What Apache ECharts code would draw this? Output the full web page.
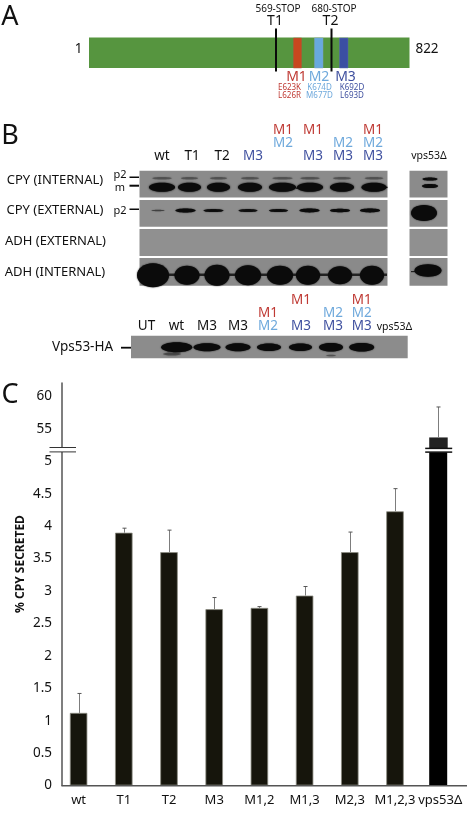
<!DOCTYPE html>
<html>
<head>
<meta charset="utf-8">
<style>html,body{margin:0;padding:0;background:#fff}#c{width:467px;height:819px}</style>
<script src="https://cdn.jsdelivr.net/npm/echarts@6/dist/echarts.min.js"></script>
</head>
<body>
<div id="c"></div>
<script>
// ---- chart values (panel C); the axis is broken above 5
const categories = ['wt','T1','T2','M3','M1,2','M1,3','M2,3','M1,2,3','vps53Δ'];
const secreted   = [1.12,3.9,3.6,2.72,2.74,2.93,3.6,4.23,53.7];
const errorTops  = [1.42,3.97,3.94,2.9,2.76,3.07,3.91,4.58,58.4];
const yTickLabels = ['0','0.5','1','1.5','2','2.5','3','3.5','4','4.5','5','55','60'];

// ---- drawing helpers for the schematic and blot panels
const FONT = '"Noto Sans", sans-serif';
const RED = '#bf3a34', LBLUE = '#6fa9dc', DBLUE = '#3f509f';
const MC = {M1:RED, M2:LBLUE, M3:DBLUE};
const g = [];
function txt(x,y,s,size,fill,extra){
  g.push({type:'text',x,y,z:20,style:Object.assign({text:s,fill:fill||'#111',font:size+'px '+FONT,textAlign:'center',textVerticalAlign:'middle'},extra||{})});
}
function rect(x0,y0,x1,y1,fill,extra){
  g.push({type:'rect',z:10,shape:{x:x0,y:y0,width:x1-x0,height:y1-y0},style:Object.assign({fill},extra||{})});
}
function band(cx,cy,w,h,op,blur){
  g.push({type:'ellipse',z:12,shape:{cx,cy,rx:w/2,ry:h/2},style:{fill:'#0b0b0b',opacity:op==null?1:op,shadowColor:'#0b0b0b',shadowBlur:blur==null?2:blur}});
}

// Panel letters
txt(10,17,'A',27); txt(10,136,'B',27); txt(10,395,'C',27);

// Panel A
txt(78.5,49,'1',13.5); txt(427,49,'822',13.5);
rect(89,37.5,409.5,68,'#56953f');
rect(293.5,38,301.5,68,'#c8471f',{stroke:'#a9553a',lineWidth:0.5});
rect(314.5,38,323,68,'#68a9df',{stroke:'#7f9fc0',lineWidth:0.5});
rect(339.5,38,348,68,'#3b4fa2',{stroke:'#5a6aa8',lineWidth:0.5});
rect(275,28.5,277,71.5,'#0a0a0a'); rect(330.5,28.5,332.5,71.5,'#0a0a0a');
txt(278,9,'569-STOP',10); txt(334,9,'680-STOP',10);
txt(275,21,'T1',14); txt(330.5,21,'T2',14);
txt(296.5,77,'M1',14,RED); txt(319,77,'M2',14,LBLUE); txt(345.5,77,'M3',14,DBLUE);
txt(289.5,87.3,'E623K',8,RED); txt(289.5,95.7,'L626R',8,RED);
txt(319.5,87.3,'K674D',8,LBLUE); txt(319.5,95.7,'M677D',8,LBLUE);
txt(352,87.3,'K692D',8,DBLUE); txt(352,95.7,'L693D',8,DBLUE);

// Panel B labels
const laneTop = [[162,[null,null,'wt']],[192,[null,null,'T1']],[222,[null,null,'T2']],[253,[null,null,'M3']],
  [283,['M1','M2',null]],[313,['M1',null,'M3']],[343,[null,'M2','M3']],[373,['M1','M2','M3']]];
laneTop.forEach(([x,st])=>st.forEach((s,i)=>{ if(s) txt(x,[130,142.7,156][i],s,13.5,MC[s]||'#111'); }));
txt(429,156,'vps53Δ',10.5);
txt(55,180,'CPY (INTERNAL)',13); txt(55,210.5,'CPY (EXTERNAL)',13);
txt(55.5,241.5,'ADH (EXTERNAL)',13); txt(55,272,'ADH (INTERNAL)',13);
txt(120,175,'p2',11); txt(120,187.5,'m',11); txt(120,210.5,'p2',11);
rect(129.5,176.5,139,178,'#0a0a0a'); rect(129.5,184.7,139,186.7,'#0a0a0a'); rect(129.5,208.5,139,210,'#0a0a0a');

// Blot rows
const GEL='#8b8b8b';
rect(139.5,170.7,387.5,197.5,GEL); rect(139.5,200,387.5,226.7,'#8e8e8e');
rect(139.5,229,387.5,256,'#909090'); rect(139.5,258,387.5,285.7,'#8a8a8a');
rect(409.5,170.7,447.5,197.5,GEL); rect(409.5,200,447.5,226.7,'#8e8e8e');
rect(409.5,229,447.5,256,'#909090'); rect(409.5,258,447.5,285.7,'#8a8a8a');
// row 1: CPY internal (cx, width)
[[162,26],[189.5,23],[218.5,23],[250,24],[282.5,27],[310,26],[342,24],[374,25]].forEach(([x,w])=>{
  band(x,187.3,w,9); band(x,178.3,w*0.75,2.5,0.28,1.5);
});
rect(296,187.5,299,188.8,'#111'); rect(386,186.8,387.5,188,'#111');
band(430,179,15,3.2,0.95,1); band(430,186,16,4.2,0.95,1);
// row 2: CPY external
[[158,13,1.5,0.4],[185.5,20,4,1],[213.5,20,3.2,0.9],[248,19,3.2,0.85],[278.5,19,3.2,0.92],[309.5,20,3.8,1],[340,20,3.5,1],[370,20,3.8,1]].forEach(([x,w,h,o])=>band(x,210.5,w,h,o,1.2));
band(424,213,26,16,1,1.5);
// row 4: ADH internal
rect(141,273.5,387,276,'#222');
[[153,32,24],[187,25,19],[217,25,21],[248,26,20],[280,26,19],[308,24,19],[340,24,18],[372,24,19]].forEach(([x,w,h])=>band(x,275.3,w,h,1,1.5));
band(428,270.5,27,12.5,1,1.5); rect(411,271,420,272.2,'#222');

// Lower blot
txt(146.5,325.7,'UT',13.5); txt(176.5,325.7,'wt',13.5); txt(207,325.7,'M3',13.5); txt(238,325.7,'M3',13.5);
[[268,[null,'M1','M2']],[301,['M1',null,'M3']],[333,[null,'M2','M3']],[361.7,['M1','M2','M3']]].forEach(([x,st])=>
  st.forEach((s,i)=>{ if(s) txt(x,[300,312.7,325.7][i],s,13.5,MC[s]); }));
txt(394.5,327.5,'vps53Δ',10.5);
txt(82.5,347.3,'Vps53-HA',13.5);
rect(121,346.8,131,348.6,'#0a0a0a');
rect(131,335.7,407.7,358.3,'#8c8c8c');
[[176.7,31,10],[207,27,8],[238,25,8],[269,24,7.5],[300.5,23,7.5],[331,24,8.5],[361.7,25,8.5]].forEach(([x,w,h])=>band(x,347.3,w,h,1,1.5));
band(172,354,18,3,0.35,2); band(331,355.5,10,1.5,0.3,1.5);

// Panel C: axis line along the bottom and broken-axis mark
rect(61.5,785,467,786.5,'#555');
rect(49,447.6,76,452,'#fff');
rect(49.5,447,76,448,'#333'); rect(49.5,451.4,76,452.4,'#333');
txt(20.5,564,'% CPY SECRETED',12,'#111',{font:'bold 12px '+FONT});
g[g.length-1].rotation=Math.PI/2;

// Values above the break are plotted on a compressed scale (55 sits where 5.5 would)
const toAxis = v => v>=50 ? v/10 : v;
const barData = secreted.map((v,i)=> i===8 ? '-' : v);

const chart = echarts.init(document.getElementById('c'),null,{renderer:'canvas'});
chart.setOption({
  animation:false,
  backgroundColor:'#fff',
  graphic:g,
  grid:{left:56,width:406.8,top:383,height:402.5,containLabel:false},
  xAxis:{type:'category',data:categories,axisLine:{show:false},axisTick:{show:false},
    axisLabel:{color:'#111',fontFamily:'"Noto Sans", sans-serif',fontSize:13,margin:8,interval:0,hideOverlap:false}},
  yAxis:{type:'value',min:0,max:6.21,interval:0.5,offset:-6,
    splitLine:{show:false},axisTick:{show:false},
    axisLine:{show:true,lineStyle:{color:'#555',width:1.5}},
    axisLabel:{color:'#111',fontFamily:'"Noto Sans", sans-serif',fontSize:13.5,margin:10,showMaxLabel:false,
      formatter:v=>yTickLabels[Math.round(v/0.5)]||''}},
  series:[
    {type:'bar',name:'% CPY secreted',data:barData,barWidth:17.5,
      itemStyle:{color:'#16150c',borderColor:'#8c8c82',borderWidth:0.8}},
    {type:'custom',name:'vps53Δ',z:5,data:[[8,secreted[8]]],renderItem(params,api){
      const cx=api.coord([8,0])[0]-2, base=api.coord([8,0])[1];
      const yLow=api.coord([8,5.14])[1], yUp=api.coord([8,5.205])[1], top=api.coord([8,toAxis(api.value(1))])[1];
      const R=(x,y,w,h,fill)=>({type:'rect',shape:{x,y,width:w,height:h},style:{fill}});
      return {type:'group',children:[
        R(cx-9,yLow,18,base-yLow,'#000'),
        R(cx-9,top,18.5,yUp-top,'#222'),
        R(cx-13,yUp-0.5,27,1.5,'#111'),
        R(cx-13,yLow-1,27,1.5,'#111')
      ]};
    }},
    {type:'custom',name:'error',z:6,data:errorTops.map((t,i)=>[i,secreted[i],t]),renderItem(params,api){
      const i=api.value(0), shift=i===8?-2:0;
      const b=api.coord([i,toAxis(api.value(1))]), t=api.coord([i,toAxis(api.value(2))]);
      const x=Math.round(b[0]+shift)+0.5;
      return {type:'group',children:[
        {type:'line',shape:{x1:x,y1:b[1],x2:x,y2:t[1]},style:{stroke:'#7d7d7d',lineWidth:1}},
        {type:'line',shape:{x1:x-2,y1:t[1],x2:x+2,y2:t[1]},style:{stroke:'#555',lineWidth:1}}
      ]};
    }}
  ]
});
</script>
</body>
</html>
